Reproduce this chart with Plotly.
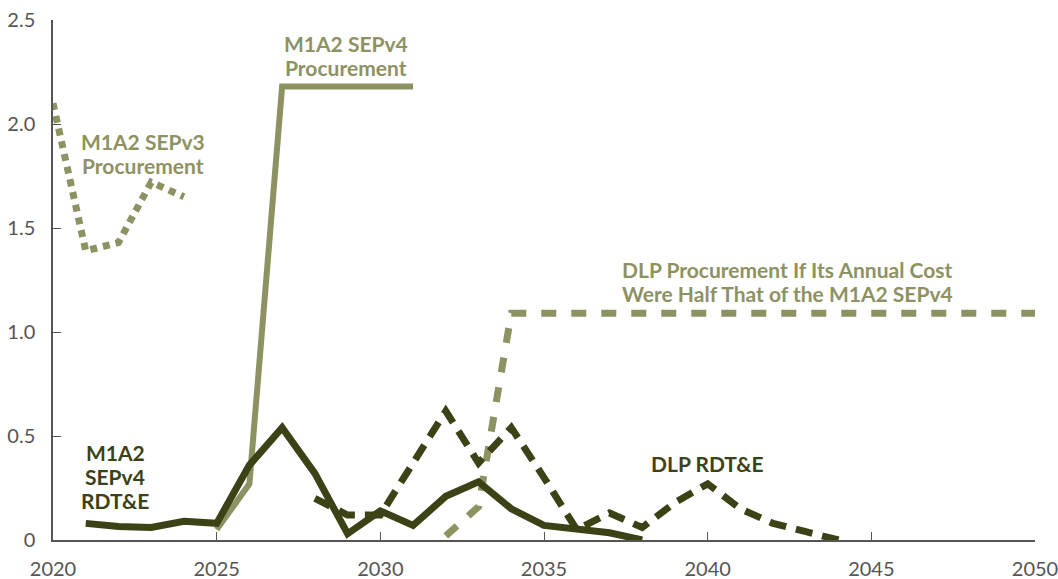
import plotly.graph_objects as go

LIGHT = "#8e9262"
DARK = "#3c4216"
AXIS = "#555555"
FONT = "Lato"

# M1A2 SEPv3 procurement (dotted, light)
sepv3_years = [2020, 2021, 2022, 2023, 2024]
sepv3_proc = [2.10, 1.39, 1.43, 1.72, 1.65]

# M1A2 SEPv4 procurement (solid, light)
sepv4_proc_years = [2025, 2026, 2027, 2028, 2029, 2030, 2031]
sepv4_proc = [0.05, 0.27, 2.18, 2.18, 2.18, 2.18, 2.18]

# M1A2 SEPv4 RDT&E (solid, dark)
sepv4_rdte_years = list(range(2021, 2039))
sepv4_rdte = [0.08, 0.065, 0.06, 0.09, 0.08, 0.36, 0.54, 0.32, 0.03,
              0.14, 0.07, 0.21, 0.28, 0.15, 0.07, 0.05, 0.035, 0.0]

# DLP procurement (dashed, light)
dlp_proc_years = list(range(2032, 2051))
dlp_proc = [0.02, 0.16] + [1.09] * 17

# DLP RDT&E (dashed, dark)
dlp_rdte_years = list(range(2028, 2045))
dlp_rdte = [0.20, 0.12, 0.12, 0.37, 0.62, 0.37, 0.54, 0.30, 0.05,
            0.13, 0.06, 0.18, 0.27, 0.15, 0.08, 0.04, 0.0]

x_ticks = [2020, 2025, 2030, 2035, 2040, 2045, 2050]
y_ticks = [0, 0.5, 1.0, 1.5, 2.0, 2.5]
y_tick_text = ["0", "0.5", "1.0", "1.5", "2.0", "2.5"]

fig = go.Figure()


def add_line(x, y, color, width, dash):
    fig.add_trace(go.Scatter(
        x=x, y=y, mode="lines",
        line=dict(color=color, width=width, dash=dash),
        showlegend=False, hoverinfo="skip",
    ))


add_line(dlp_proc_years, dlp_proc, LIGHT, 7, "15px,15px")
add_line(sepv3_years, sepv3_proc, LIGHT, 7, "7px,6px")
add_line(sepv4_proc_years, sepv4_proc, LIGHT, 6, "solid")
add_line(dlp_rdte_years, dlp_rdte, DARK, 7, "17px,10px")
add_line(sepv4_rdte_years, sepv4_rdte, DARK, 7, "solid")

# 线旁标注（逐行放置，行距更紧）
labels = [
    (["M1A2 SEPv3", "Procurement"], 2022.75, 1.86, LIGHT),
    (["M1A2 SEPv4", "Procurement"], 2028.95, 2.33, LIGHT),
    (["DLP Procurement If Its Annual Cost",
      "Were Half That of the M1A2 SEPv4"], 2042.43, 1.245, LIGHT),
    (["DLP RDT&E"], 2040.0, 0.37, DARK),
    (["M1A2", "SEPv4", "RDT&E"], 2021.9, 0.305, DARK),
]
line_gap = 24
for lines, x, y, color in labels:
    n = len(lines)
    for i, text in enumerate(lines):
        fig.add_annotation(
            x=x, y=y, text=text, showarrow=False,
            yshift=((n - 1) / 2 - i) * line_gap,
            font=dict(family=FONT, size=21, color=color, weight="bold"),
        )

fig.update_layout(
    width=1058, height=579,
    margin=dict(l=53, r=23, t=20, b=39, autoexpand=False),
    paper_bgcolor="white", plot_bgcolor="white",
    font=dict(family=FONT, size=20, color=AXIS),
    xaxis=dict(
        range=[2020, 2050], tickvals=x_ticks,
        showgrid=False, zeroline=False, automargin=False,
        showline=True, linecolor=AXIS, linewidth=1.5,
        ticks="inside", ticklen=8, tickcolor=AXIS,
        ticklabelstandoff=10, ticklabeloverflow="allow",
    ),
    yaxis=dict(
        range=[0, 2.5], tickvals=y_ticks, ticktext=y_tick_text,
        showgrid=False, zeroline=False, automargin=False,
        showline=True, linecolor=AXIS, linewidth=1.5,
        ticks="inside", ticklen=8, tickcolor=AXIS,
        ticklabelstandoff=12, ticklabeloverflow="allow",
    ),
)

# 去掉浏览器 body 默认的 8px 边距，图幅与窗口对齐
fig.write_html(
    "out.html",
    config={"displayModeBar": False},
    post_script="document.body.style.margin='0';document.body.style.overflow='hidden';",
)
